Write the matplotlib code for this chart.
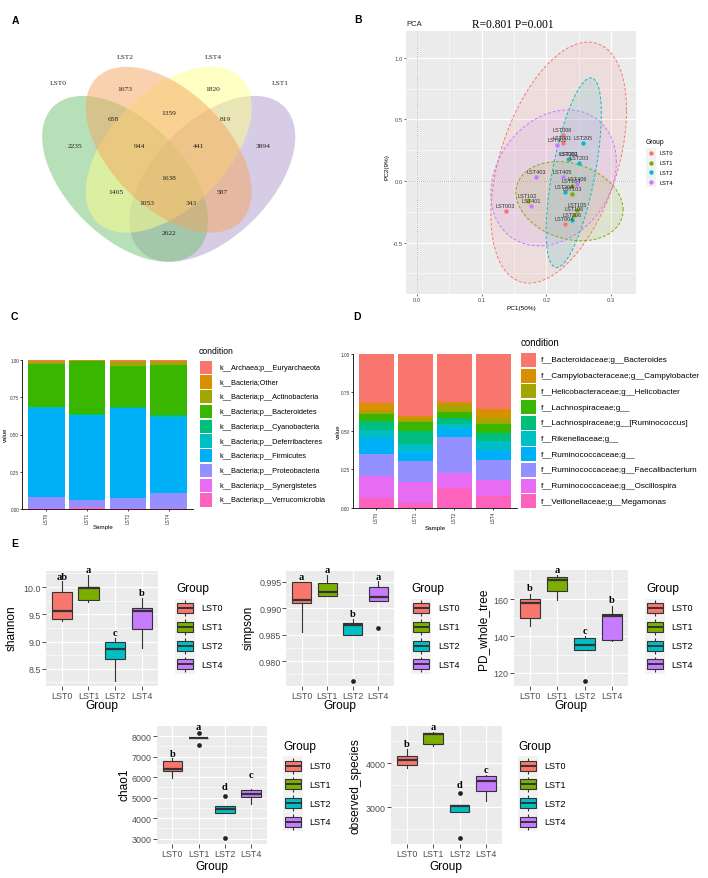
import numpy as np
import matplotlib
matplotlib.use('Agg')
import matplotlib.pyplot as plt
from matplotlib.patches import Ellipse, Rectangle

plt.rcParams['font.family'] = ['Liberation Sans', 'DejaVu Sans']
W, H = 708, 879
fig = plt.figure(figsize=(W / 100, H / 100), dpi=100)


def ax_px(x0, y0, x1, y1):
    return fig.add_axes([x0 / W, 1 - y1 / H, (x1 - x0) / W, (y1 - y0) / H])


# ====================== DATA ======================
# --- A: Venn diagram ---
venn_sets = ['LST0', 'LST2', 'LST4', 'LST1']
venn_counts = [1673, 1820, 658, 1359, 819, 2235, 944, 441, 3894,
               1638, 1405, 587, 1053, 343, 2622]

# --- B: PCA ---
groups = ['LST0', 'LST1', 'LST2', 'LST4']
pca_samples = ['LST006', 'LST001', 'LST002', 'LST003', 'LST004',
               'LST104', 'LST103', 'LST102', 'LST105', 'LST106',
               'LST205', 'LST201', 'LST203', 'LST204', 'LST206',
               'LST402', 'LST403', 'LST405', 'LST406', 'LST401']
pca_group = ['LST0', 'LST0', 'LST0', 'LST0', 'LST0',
             'LST1', 'LST1', 'LST1', 'LST1', 'LST1',
             'LST2', 'LST2', 'LST2', 'LST2', 'LST2',
             'LST4', 'LST4', 'LST4', 'LST4', 'LST4']
pca_pc1 = [0.225, 0.225, 0.233, 0.137, 0.228,
           0.239, 0.240, 0.171, 0.247, 0.243,
           0.257, 0.235, 0.251, 0.228, 0.239,
           0.217, 0.184, 0.225, 0.248, 0.177]
pca_pc2 = [0.377, 0.310, 0.176, -0.241, -0.351,
           -0.038, -0.106, -0.164, -0.234, -0.272,
           0.310, 0.177, 0.146, -0.087, -0.318,
           0.295, 0.032, 0.032, -0.024, -0.205]
# ellipse (centre, half x-extent, half y-extent, correlation) per group
ell_cx = [0.219, 0.2357, 0.2422, 0.2111]
ell_cy = [0.1495, -0.164, 0.0677, 0.0256]
ell_hx = [0.1047, 0.0827, 0.0426, 0.0969]
ell_hy = [0.978, 0.321, 0.7695, 0.5515]
ell_rho = [0.435, -0.22, 0.62, 0.23]

# --- C: phylum level ---
samples = ['LST0', 'LST1', 'LST2', 'LST4']
phylum_names = ['k__Archaea;p__Euryarchaeota', 'k__Bacteria;Other',
                'k__Bacteria;p__Actinobacteria', 'k__Bacteria;p__Bacteroidetes',
                'k__Bacteria;p__Cyanobacteria', 'k__Bacteria;p__Deferribacteres',
                'k__Bacteria;p__Firmicutes', 'k__Bacteria;p__Proteobacteria',
                'k__Bacteria;p__Synergistetes', 'k__Bacteria;p__Verrucomicrobia']
phylum_LST0 = [0.005, 0.010, 0.012, 0.288, 0.002, 0.005, 0.598, 0.075, 0.003, 0.002]
phylum_LST1 = [0.002, 0.002, 0.003, 0.355, 0.004, 0.008, 0.566, 0.048, 0.004, 0.008]
phylum_LST2 = [0.005, 0.011, 0.027, 0.275, 0.001, 0.003, 0.604, 0.069, 0.002, 0.003]
phylum_LST4 = [0.007, 0.008, 0.016, 0.341, 0.005, 0.012, 0.504, 0.102, 0.002, 0.003]

# --- D: genus level ---
genus_names = ['f__Bacteroidaceae;g__Bacteroides', 'f__Campylobacteraceae;g__Campylobacter',
               'f__Helicobacteraceae;g__Helicobacter', 'f__Lachnospiraceae;g__',
               'f__Lachnospiraceae;g__[Ruminococcus]', 'f__Rikenellaceae;g__',
               'f__Ruminococcaceae;g__', 'f__Ruminococcaceae;g__Faecalibacterium',
               'f__Ruminococcaceae;g__Oscillospira', 'f__Veillonellaceae;g__Megamonas']
genus_LST0 = [0.320, 0.049, 0.024, 0.045, 0.057, 0.049, 0.106, 0.145, 0.140, 0.065]
genus_LST1 = [0.404, 0.021, 0.018, 0.060, 0.084, 0.044, 0.064, 0.139, 0.136, 0.030]
genus_LST2 = [0.313, 0.017, 0.048, 0.039, 0.039, 0.023, 0.063, 0.229, 0.099, 0.130]
genus_LST4 = [0.356, 0.059, 0.041, 0.056, 0.054, 0.056, 0.065, 0.132, 0.105, 0.076]

# --- E: alpha diversity box statistics (LST0, LST1, LST2, LST4) ---
shannon_lo = [9.38, 9.73, 8.28, 8.88]
shannon_q1 = [9.406, 9.77, 8.678, 9.229]
shannon_med = [9.553, 9.98, 8.856, 9.566]
shannon_q3 = [9.914, 10.0, 9.0, 9.608]
shannon_hi = [10.116, 10.22, 9.064, 9.80]
shannon_out = [[], [], [], []]
shannon_letters = ['ab', 'a', 'c', 'b']
shannon_letter_y = [10.196, 10.318, 9.17, 9.90]

simpson_lo = [0.98554, 0.99229, 0.98491, 0.99134]
simpson_q1 = [0.99103, 0.99235, 0.98491, 0.99134]
simpson_med = [0.99153, 0.99311, 0.98687, 0.9921]
simpson_q3 = [0.9949, 0.99468, 0.98712, 0.99393]
simpson_hi = [0.9949, 0.99626, 0.98794, 0.99506]
simpson_out = [[], [], [0.97627], [0.98617]]
simpson_letters = ['a', 'a', 'b', 'a']
simpson_letter_y = [0.99602, 0.99727, 0.98901, 0.99602]

pd_lo = [145.7, 159.6, 132.7, 137.2]
pd_q1 = [149.7, 164.3, 132.7, 137.9]
pd_med = [158.0, 170.3, 135.4, 151.1]
pd_q3 = [160.0, 172.3, 138.8, 152.0]
pd_hi = [162.9, 173.2, 140.3, 156.6]
pd_out = [[], [], [115.8], []]
pd_letters = ['b', 'a', 'c', 'b']
pd_letter_y = [166.2, 176.1, 143.3, 159.8]

chao1_lo = [5938, 7900, 4234, 4688]
chao1_q1 = [6312, 7900, 4234, 5013]
chao1_med = [6377, 7910, 4429, 5175]
chao1_q3 = [6766, 7925, 4607, 5370]
chao1_hi = [6912, 7925, 4607, 5419]
chao1_out = [[], [8160, 7545], [5094, 3016], []]
chao1_letters = ['b', 'a', 'd', 'c']
chao1_letter_y = [7156, 8470, 5549, 6149]

obs_lo = [3886, 4402, 2902, 3136]
obs_q1 = [3970, 4439, 2902, 3379]
obs_med = [4083, 4659, 3030, 3591]
obs_q3 = [4159, 4682, 3061, 3712]
obs_hi = [4326, 4705, 3061, 3735]
obs_out = [[], [], [3326, 2295], []]
obs_letters = ['b', 'a', 'd', 'c']
obs_letter_y = [4455, 4833, 3508, 3856]

# ====================== STYLE ======================
group_colors = ['#F8766D', '#7CAE00', '#00BFC4', '#C77CFF']
hue10 = ['#F8766D', '#D89000', '#A3A500', '#39B600', '#00BF7D',
         '#00BFC4', '#00B0F6', '#9590FF', '#E76BF3', '#FF62BC']
SERIF = ['Liberation Serif', 'DejaVu Serif']

# ====================== A: Venn ======================
axA = ax_px(23.2, 25.6, 314.2, 316.6)
axA.set_xlim(0, 1)
axA.set_ylim(0, 1)
axA.axis('off')
# drawing order: LST1 (purple), LST0 (green), LST4 (yellow), LST2 (orange)
venn_draw = [('LST1', (0.65, 0.47), 45, '#AF9BCD'),
             ('LST0', (0.35, 0.47), -45, '#73C373'),
             ('LST4', (0.50, 0.57), 45, '#FFFF8A'),
             ('LST2', (0.50, 0.57), -45, '#F5A55F')]
for name, c, ang, col in venn_draw:
    axA.add_patch(Ellipse(c, 0.7, 0.4, angle=ang, fc=col, ec='none', alpha=0.5))
venn_label_xy = [(0.120, 0.802), (0.350, 0.892), (0.652, 0.892), (0.882, 0.802)]
for s, (x, y) in zip(venn_sets, venn_label_xy):
    axA.text(x, y, s, ha='center', va='center', fontsize=5.4, family=SERIF, color='#222222')
venn_count_xy = [(0.350, 0.779), (0.652, 0.779), (0.309, 0.679), (0.501, 0.699), (0.694, 0.679),
                 (0.178, 0.586), (0.398, 0.586), (0.601, 0.586), (0.824, 0.586), (0.501, 0.476),
                 (0.319, 0.425), (0.683, 0.425), (0.425, 0.387), (0.577, 0.387), (0.501, 0.284)]
for n, (x, y) in zip(venn_counts, venn_count_xy):
    axA.text(x, y, str(n), ha='center', va='center', fontsize=5.4, family=SERIF, color='#222222')

# ====================== B: PCA ======================
axB = ax_px(406, 32, 636, 295)
axB.set_facecolor('#EBEBEB')
axB.set_xlim(-0.0167, 0.3383)
axB.set_ylim(-0.917, 1.2175)
axB.set_xticks([0.0, 0.1, 0.2, 0.3])
axB.set_xticklabels(['0.0', '0.1', '0.2', '0.3'])
axB.set_yticks([-0.5, 0.0, 0.5, 1.0])
axB.set_yticklabels(['-0.5', '0.0', '0.5', '1.0'])
axB.set_xticks([0.05, 0.15, 0.25], minor=True)
axB.set_yticks([-0.75, -0.25, 0.25, 0.75], minor=True)
axB.grid(which='major', color='white', lw=0.8)
axB.grid(which='minor', color='white', lw=0.4)
axB.set_axisbelow(True)
for sp in axB.spines.values():
    sp.set_visible(False)
axB.tick_params(which='major', length=1.4, width=0.5, color='#333333', labelsize=4.2,
                labelcolor='#4D4D4D', pad=0.8)
axB.tick_params(which='minor', length=0)
axB.axvline(0, color='#999999', ls=(0, (1, 1.5)), lw=0.6, zorder=1)
axB.axhline(0, color='#999999', ls=(0, (1, 1.5)), lw=0.6, zorder=1)
t = np.linspace(0, 2 * np.pi, 300)
for i, g in enumerate(groups):
    ex = ell_cx[i] + ell_hx[i] * np.cos(t)
    ey = ell_cy[i] + ell_hy[i] * (ell_rho[i] * np.cos(t) + np.sqrt(1 - ell_rho[i] ** 2) * np.sin(t))
    axB.fill(ex, ey, color=group_colors[i], alpha=0.12, lw=0, zorder=2)
    axB.plot(ex, ey, color=group_colors[i], ls=(0, (3, 2)), lw=0.7, zorder=3)
for g, col in zip(groups, group_colors):
    xs = [x for x, gg in zip(pca_pc1, pca_group) if gg == g]
    ys = [y for y, gg in zip(pca_pc2, pca_group) if gg == g]
    axB.scatter(xs, ys, s=10, color=col, zorder=4, linewidths=0)
for s, x, y in zip(pca_samples, pca_pc1, pca_pc2):
    axB.annotate(s, (x, y), xytext=(0, 4), textcoords='offset points', ha='center',
                 va='center', fontsize=4.0, color='#333333', zorder=5)

# ====================== C: phylum stacked bars ======================
def stacked(ax, values_by_sample, colors, width=0.9):
    pos = np.arange(1, len(samples) + 1)
    n = len(colors)
    for j, vals in enumerate(values_by_sample):
        bottom = 0.0
        for k in range(n - 1, -1, -1):
            ax.bar(pos[j], vals[k], bottom=bottom, width=width, color=colors[k], lw=0)
            bottom += vals[k]


axC = ax_px(22, 361, 193, 510)
stacked(axC, [phylum_LST0, phylum_LST1, phylum_LST2, phylum_LST4], hue10)
axD = ax_px(352.7, 354.7, 516.7, 509)
stacked(axD, [genus_LST0, genus_LST1, genus_LST2, genus_LST4], hue10)
for ax, fs in [(axC, 3.3), (axD, 3.4)]:
    ax.set_xlim(0.4, 4.6)
    ax.set_ylim(0, 1.0)
    ax.set_xticks([1, 2, 3, 4])
    ax.set_xticklabels(samples, rotation=90)
    ax.set_yticks([0, 0.25, 0.5, 0.75, 1.0])
    ax.set_yticklabels(['0.00', '0.25', '0.50', '0.75', '1.00'])
    ax.spines['top'].set_visible(False)
    ax.spines['right'].set_visible(False)
    ax.spines['left'].set_linewidth(0.6)
    ax.spines['bottom'].set_linewidth(0.6)
    ax.tick_params(length=1.4, width=0.5, labelsize=fs, pad=0.6, labelcolor='#333333')

# ====================== E: boxplots ======================
def box_panel(rect, lo, q1, med, q3, hi, out, ylim, majors, major_labels, minors,
              letters, letter_y):
    ax = ax_px(*rect)
    ax.set_facecolor('#EBEBEB')
    stats = [dict(whislo=lo[i], q1=q1[i], med=med[i], q3=q3[i], whishi=hi[i],
                  fliers=out[i]) for i in range(4)]
    res = ax.bxp(stats, positions=[1, 2, 3, 4], widths=0.75, patch_artist=True,
                 showcaps=False, manage_ticks=False,
                 boxprops=dict(edgecolor='#333333', linewidth=0.8),
                 medianprops=dict(color='#333333', linewidth=1.6),
                 whiskerprops=dict(color='#333333', linewidth=0.8),
                 flierprops=dict(marker='o', markerfacecolor='#222222',
                                 markeredgecolor='none', markersize=3.4))
    for p, c in zip(res['boxes'], group_colors):
        p.set_facecolor(c)
    ax.set_xlim(0.4, 4.6)
    ax.set_ylim(*ylim)
    ax.set_xticks([1, 2, 3, 4])
    ax.set_xticklabels(groups)
    ax.set_yticks(majors)
    ax.set_yticklabels(major_labels)
    ax.set_yticks(minors, minor=True)
    ax.grid(which='major', color='white', lw=0.9)
    ax.grid(which='minor', axis='y', color='white', lw=0.45)
    ax.set_axisbelow(True)
    for sp in ax.spines.values():
        sp.set_visible(False)
    ax.tick_params(which='major', length=2.6, width=0.6, color='#333333', labelsize=6.4,
                   labelcolor='#4D4D4D', pad=1.0)
    ax.tick_params(which='minor', length=0)
    for i, (lt, ly) in enumerate(zip(letters, letter_y)):
        ax.text(i + 1, ly, lt, ha='center', va='center', fontsize=7.5, fontweight='bold',
                family=SERIF, clip_on=False)
    return ax


box_panel((45.7, 571.7, 158, 686.7), shannon_lo, shannon_q1, shannon_med, shannon_q3,
          shannon_hi, shannon_out, (8.19, 10.30), [8.5, 9.0, 9.5, 10.0],
          ['8.5', '9.0', '9.5', '10.0'], [8.25, 8.75, 9.25, 9.75, 10.25],
          shannon_letters, shannon_letter_y)
box_panel((286.4, 571.7, 393.5, 686.7), simpson_lo, simpson_q1, simpson_med, simpson_q3,
          simpson_hi, simpson_out, (0.97534, 0.99708), [0.980, 0.985, 0.990, 0.995],
          ['0.980', '0.985', '0.990', '0.995'], [0.9775, 0.9825, 0.9875, 0.9925],
          simpson_letters, simpson_letter_y)
box_panel((513.5, 570.7, 628.3, 686.7), pd_lo, pd_q1, pd_med, pd_q3, pd_hi, pd_out,
          (113.1, 176.1), [120, 140, 160], ['120', '140', '160'], [130, 150, 170],
          pd_letters, pd_letter_y)
box_panel((156.7, 726.7, 266.7, 845), chao1_lo, chao1_q1, chao1_med, chao1_q3, chao1_hi,
          chao1_out, (2741, 8502), [3000, 4000, 5000, 6000, 7000, 8000],
          ['3000', '4000', '5000', '6000', '7000', '8000'], [3500, 4500, 5500, 6500, 7500],
          chao1_letters, chao1_letter_y)
box_panel((391, 726.7, 501.7, 845), obs_lo, obs_q1, obs_med, obs_q3, obs_hi, obs_out,
          (2166, 4855), [3000, 4000], ['3000', '4000'], [2500, 3500, 4500],
          obs_letters, obs_letter_y)

# ====================== overlay (texts, legends) ======================
ov = fig.add_axes([0, 0, 1, 1], zorder=10)
ov.set_xlim(0, W)
ov.set_ylim(H, 0)
ov.axis('off')

# panel letters
for lab, x, y in [('A', 15, 20.5), ('B', 357.7, 20), ('C', 14.5, 317), ('D', 357.5, 317),
                  ('E', 15, 543.7)]:
    ov.text(x, y, lab, ha='center', va='center', fontsize=7.5, fontweight='bold')

# B texts
ov.text(406.7, 25, 'PCA', ha='left', va='center', fontsize=5.5, color='#222222')
ov.text(513, 24.7, 'R=0.801 P=0.001', ha='center', va='center', fontsize=8.3, family=SERIF)
ov.text(387.3, 167, 'PC2(9%)', ha='center', va='center', rotation=90, fontsize=4.6)
ov.text(521.3, 308.3, 'PC1(50%)', ha='center', va='center', fontsize=4.6)
ov.text(645.7, 142, 'Group', ha='left', va='center', fontsize=4.8)
b_rows = [153.7, 163.5, 173.3, 183.1]
ov.add_patch(Rectangle((645.7, b_rows[0] - 4.9), 10, b_rows[-1] - b_rows[0] + 9.8,
                       fc='#F2F2F2', ec='none'))
for r, g, c in zip(b_rows, groups, group_colors):
    ov.scatter([650.7], [r], s=10, color=c, linewidths=0)
    ov.text(659, r, g, ha='left', va='center', fontsize=4.1)

# C / D texts
ov.text(5, 435, 'value', ha='center', va='center', rotation=90, fontsize=4.3)
ov.text(103, 528, 'Sample', ha='center', va='center', fontsize=4.4)
ov.text(338, 432, 'value', ha='center', va='center', rotation=90, fontsize=4.4)
ov.text(435, 528.3, 'Sample', ha='center', va='center', fontsize=4.5)


def rect_legend(tx, ty, kx, kw, kh, rows, lx, names, tsize, lsize):
    ov.text(tx, ty, 'condition', ha='left', va='center', fontsize=tsize)
    for r, nm, c in zip(rows, names, hue10):
        ov.add_patch(Rectangle((kx, r - kh / 2), kw, kh, fc=c, ec='none'))
        ov.text(lx, r, nm, ha='left', va='center', fontsize=lsize)


c_rows = list(np.linspace(368.3, 501, 10))
rect_legend(199, 351.7, 200, 12, 13.2, c_rows, 219, phylum_names, 6.2, 5.3)
d_rows = list(np.linspace(361, 502.3, 10))
rect_legend(520.7, 343.3, 520.7, 15, 14.2, d_rows, 541.3, genus_names, 7.0, 5.9)

# E axis titles
for txt, x, y in [('Group', 101.9, 706.5), ('Group', 340, 706.5), ('Group', 571, 706.5),
                  ('Group', 211.7, 866.7), ('Group', 446.3, 866.7)]:
    ov.text(x, y, txt, ha='center', va='center', fontsize=8.6)
for txt, x, y in [('shannon', 12, 628), ('simpson', 248.3, 628), ('PD_whole_tree', 483.3, 629),
                  ('chao1', 124, 785), ('observed_species', 355.5, 786)]:
    ov.text(x, y, txt, ha='center', va='center', rotation=90, fontsize=8.6)


def box_legend(tx, ty, kx, rows):
    ov.text(tx, ty, 'Group', ha='left', va='center', fontsize=8.6)
    ks = rows[1] - rows[0]
    kw = 20
    ov.add_patch(Rectangle((kx - kw / 2, rows[0] - ks / 2), kw, rows[-1] - rows[0] + ks,
                           fc='#F2F2F2', ec='none', zorder=1))
    for r, g, c in zip(rows, groups, group_colors):
        ov.plot([kx, kx], [r - ks / 2 + 1.5, r + ks / 2 - 1.5], color='#333333', lw=0.8,
                zorder=2, solid_capstyle='butt')
        ov.add_patch(Rectangle((kx - 8, r - 5), 16, 10, fc=c, ec='#333333', lw=0.8, zorder=3))
        ov.plot([kx - 8, kx + 8], [r, r], color='#333333', lw=1.4, zorder=4,
                solid_capstyle='butt')
        ov.text(kx + 16.7, r, g, ha='left', va='center', fontsize=6.5)


rows_top = [609, 627.8, 646.6, 665.4]
rows_bot = [766.7, 785.4, 804.1, 822.8]
box_legend(176.7, 588.7, 185, rows_top)
box_legend(411.7, 588.7, 421.3, rows_top)
box_legend(646.7, 588.7, 655, rows_top)
box_legend(283.3, 746.7, 292.8, rows_bot)
box_legend(518.3, 746.7, 527.8, rows_bot)

fig.savefig('out.png', dpi=100)
